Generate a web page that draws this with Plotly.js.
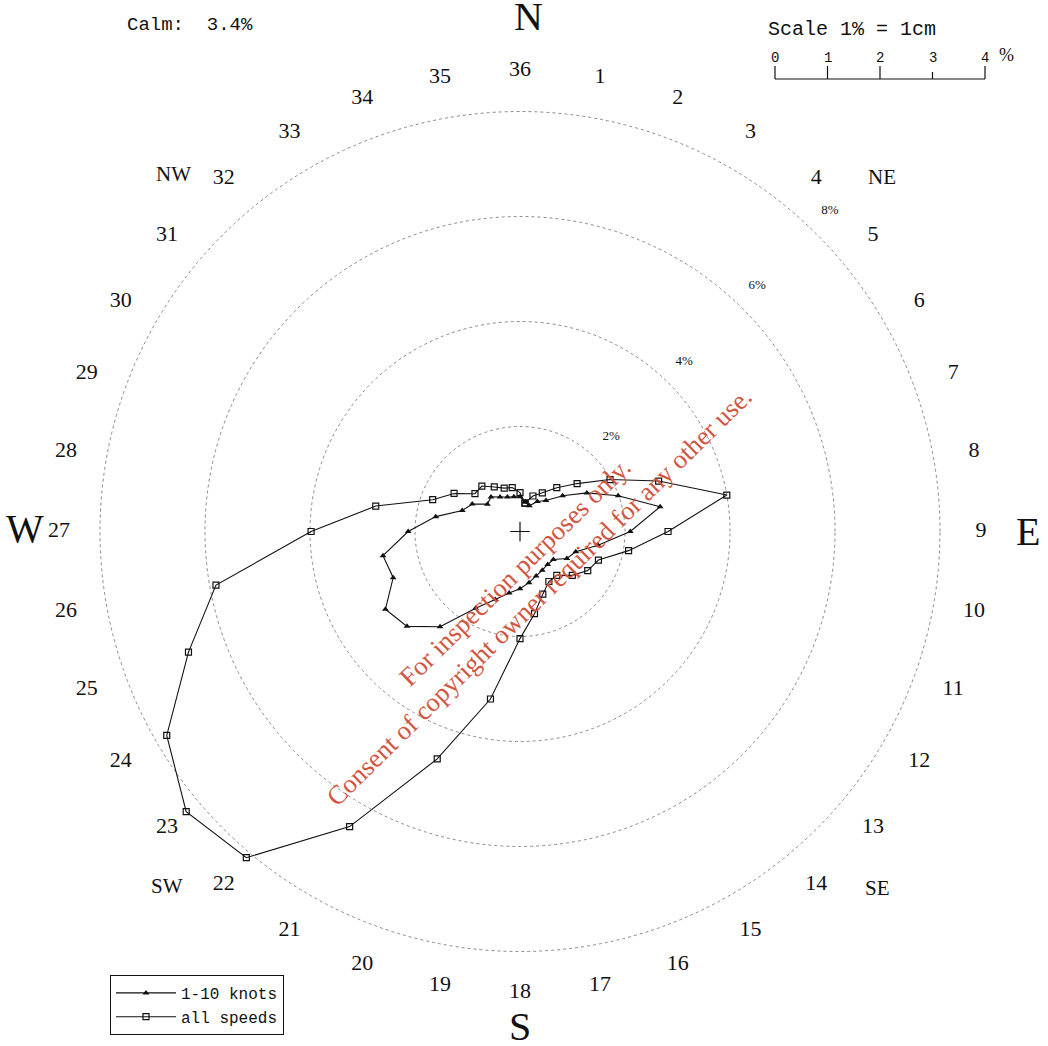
<!DOCTYPE html>
<html>
<head>
<meta charset="utf-8">
<script src="https://cdn.plot.ly/plotly-3.0.1.min.js"></script>
<style>
  html, body { margin: 0; padding: 0; background: #ffffff; }
  #chart { width: 1048px; height: 1046px; }
</style>
</head>
<body>
<div id="chart"></div>
<script>
// ---- data (percent frequency per 10-degree direction sector, 1..36) ----
const directionLabels = ['1','2','3','4','5','6','7','8','9','10','11','12','13','14','15','16','17','18',
  '19','20','21','22','23','24','25','26','27','28','29','30','31','32','33','34','35','36'];
const knots1to10 = [0.57, 0.52, 0.66, 0.77, 1.06, 1.47, 1.99, 2.71, 2.10, 1.51, 1.13, 1.03,
  0.83, 0.82, 0.85, 0.90, 0.99, 1.09, 1.19, 1.38, 1.69, 2.37, 2.81, 2.96,
  2.57, 2.65, 2.13, 1.63, 1.17, 1.05, 0.81, 0.86, 0.76, 0.70, 0.67, 0.66];
const allSpeeds = [0.55, 0.72, 0.85, 1.09, 1.42, 1.98, 2.81, 4.00, 2.82, 2.10, 1.59, 1.49,
  1.30, 1.09, 1.10, 1.27, 1.59, 2.04, 3.24, 4.61, 6.49, 8.11, 8.30, 7.77,
  6.72, 5.88, 3.98, 2.79, 1.77, 1.45, 1.12, 1.13, 0.98, 0.88, 0.85, 0.74];
const ringValues = [2, 4, 6, 8];
const compassLabels = ['N', 'NE', 'E', 'SE', 'S', 'SW', 'W', 'NW'];
const scaleTicks = [0, 1, 2, 3, 4];
const calmText = 'Calm:  3.4%';

// ---- derived ----
const bearings = directionLabels.map((d) => Number(d) * 10);
const closeLoop = (arr) => arr.concat([arr[0]]);

const W = 1048, H = 1046;
const px = (x) => x / W;
const py = (y) => 1 - y / H;

const serif = 'Liberation Serif, Times New Roman, serif';
const mono = 'Liberation Mono, Courier New, monospace';

// polar geometry: centre (520, 531.5), 1% = 52.5 px
const cx = 520, cy = 531.5, rMax = 9.0, unit = 52.5;
const rad = rMax * unit;
const labelRadius = 8.78;

const traces = [
  {
    type: 'scatterpolar', name: '1-10 knots',
    r: closeLoop(knots1to10), theta: closeLoop(bearings),
    mode: 'lines+markers',
    line: { color: '#111', width: 1.1 },
    marker: { symbol: 'triangle-up', size: 6, color: '#111' },
    cliponaxis: false
  },
  {
    type: 'scatterpolar', name: 'all speeds',
    r: closeLoop(allSpeeds), theta: closeLoop(bearings),
    mode: 'lines+markers',
    line: { color: '#111', width: 1.1 },
    marker: { symbol: 'square-open', size: 6, color: '#111', line: { width: 1.2 } },
    cliponaxis: false
  },
  {
    type: 'scatterpolar', showlegend: false, hoverinfo: 'skip',
    r: [0], theta: [0], mode: 'markers',
    marker: { symbol: 'cross-thin-open', size: 14, color: '#111', line: { width: 1.2, color: '#111' } }
  },
  {
    type: 'scatterpolar', showlegend: false, hoverinfo: 'skip',
    r: directionLabels.map(() => labelRadius), theta: bearings,
    mode: 'text', text: directionLabels, textposition: 'middle center',
    textfont: { family: serif, color: '#111', size: 22 },
    cliponaxis: false
  },
  {
    type: 'scatterpolar', showlegend: false, hoverinfo: 'skip',
    r: ringValues.map((v) => v + 0.5), theta: ringValues.map(() => 44),
    mode: 'text', text: ringValues.map((v) => v + '%'),
    textfont: { family: serif, color: '#111', size: 13 },
    cliponaxis: false
  }
];

// scale bar (1% = 52.5 px), top-right
const sx0 = 775, sy = 79;
const shapes = [
  { type: 'line', xref: 'paper', yref: 'paper', x0: px(sx0), x1: px(sx0 + 4 * unit), y0: py(sy), y1: py(sy),
    line: { color: '#111', width: 1.2 } }
].concat(scaleTicks.map((t) => ({
  type: 'line', xref: 'paper', yref: 'paper',
  x0: px(sx0 + t * unit), x1: px(sx0 + t * unit),
  y0: py(sy), y1: py(t === 3 ? sy - 7 : sy - 13),
  line: { color: '#111', width: 1.2 }
})));

// compass letter placement (pixels) around the rose
const compassPlace = {
  N: [528, 17, 40], NE: [882, 177, 21], E: [1028, 531, 40], SE: [877, 888, 21],
  S: [520, 1026, 40], SW: [167, 886, 21], W: [25, 528, 40], NW: [173, 174, 21]
};
const compassAnnotations = compassLabels.map((c) => ({
  text: c, xref: 'paper', yref: 'paper',
  x: px(compassPlace[c][0]), y: py(compassPlace[c][1]),
  xanchor: 'center', yanchor: 'middle', showarrow: false,
  font: { family: serif, size: compassPlace[c][2], color: '#111' }
}));

const annotations = [
  { text: calmText, xref: 'paper', yref: 'paper', x: px(125), y: py(25), xanchor: 'left', yanchor: 'middle',
    showarrow: false, font: { family: mono, size: 19, color: '#111' } },
  { text: 'Scale 1% = 1cm', xref: 'paper', yref: 'paper', x: px(766), y: py(30), xanchor: 'left', yanchor: 'middle',
    showarrow: false, font: { family: mono, size: 20, color: '#111' } },
  { text: '%', xref: 'paper', yref: 'paper', x: px(1006), y: py(55), xanchor: 'center', yanchor: 'middle',
    showarrow: false, font: { family: serif, size: 18, color: '#111' } },
  { text: 'For inspection purposes only.<br>Consent of copyright owner required for any other use.',
    xref: 'paper', yref: 'paper', x: px(527), y: py(584), xanchor: 'center', yanchor: 'middle',
    textangle: -44.5, showarrow: false, align: 'center',
    font: { family: serif, size: 26.5, color: '#d4553f' } }
].concat(scaleTicks.map((t) => ({
  text: String(t), xref: 'paper', yref: 'paper', x: px(sx0 + t * unit), y: py(58),
  xanchor: 'center', yanchor: 'middle', showarrow: false,
  font: { family: mono, size: 14, color: '#111' }
}))).concat(compassAnnotations);

const layout = {
  width: W, height: H,
  margin: { l: 0, r: 0, t: 0, b: 0 },
  paper_bgcolor: '#ffffff',
  showlegend: true,
  legend: {
    x: px(110), y: py(975), xanchor: 'left', yanchor: 'top',
    bordercolor: '#111', borderwidth: 1, bgcolor: '#ffffff',
    font: { family: mono, size: 16, color: '#111' },
    itemwidth: 60,
    tracegroupgap: 0
  },
  polar: {
    domain: { x: [px(cx - rad), px(cx + rad)], y: [py(cy + rad), py(cy - rad)] },
    bgcolor: 'rgba(0,0,0,0)',
    radialaxis: {
      range: [0, rMax], tickvals: ringValues, showticklabels: false, ticks: '',
      showline: false, gridcolor: '#8a8a8a', gridwidth: 1, griddash: 'dot'
    },
    angularaxis: {
      rotation: 90, direction: 'clockwise',
      showticklabels: false, showgrid: false, showline: false, ticks: ''
    }
  },
  shapes: shapes,
  annotations: annotations
};

Plotly.newPlot('chart', traces, layout, { staticPlot: true, displayModeBar: false });
</script>
</body>
</html>
